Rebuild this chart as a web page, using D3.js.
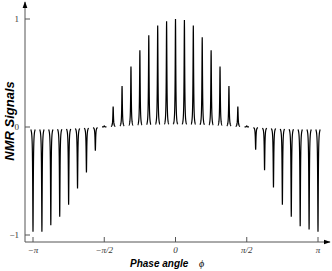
<!DOCTYPE html>
<html>
<head>
<meta charset="utf-8">
<script src="https://cdn.jsdelivr.net/npm/d3@7"></script>
<style>
  html, body { margin: 0; padding: 0; background: #fff; }
  svg { display: block; }
</style>
</head>
<body>
<svg id="chart" width="332" height="271"></svg>
<script>
// phase angles of each peak, in units of pi/16 from -pi to pi
const peakSteps = d3.range(-16, 17);
// peak heights, left to right
const peakHeights = [
    -0.97, -0.97, -0.91, -0.83, -0.72, -0.57, -0.42, -0.22, 0.01,
    0.19, 0.38, 0.56, 0.71, 0.85, 0.94, 0.98, 1.0, 0.99, 0.94,
    0.83, 0.71, 0.56, 0.38, 0.19, 0.01,
    -0.21, -0.40, -0.56, -0.72, -0.83, -0.92, -0.95, -0.97
];
const xTickValues = [-Math.PI, -Math.PI / 2, 0, Math.PI / 2, Math.PI];
const xTickLabels = ["\u2212\u03c0", "\u2212\u03c0/2", "0", "\u03c0/2", "\u03c0"];
const yTickValues = [-1, 0, 1];
const yTickLabels = ["\u22121", "0", "1"];

const svg = d3.select("#chart");

const x = d3.scaleLinear().domain([-Math.PI, Math.PI]).range([33, 318]);
const y = d3.scaleLinear().domain([-1, 1]).range([235, 19]);

const axisX0 = 25;
const axisY0 = 242;

// arrow head
svg.append("defs").append("marker")
    .attr("id", "arrow")
    .attr("viewBox", "0 0 10 10")
    .attr("refX", 9).attr("refY", 5)
    .attr("markerWidth", 7).attr("markerHeight", 7)
    .attr("orient", "auto")
    .append("path")
    .attr("d", "M0,1.5 L10,5 L0,8.5 Z")
    .attr("fill", "#000");

// peaks as narrow lorentzian lines, each with a short bit of baseline
const width = 0.35;
const peakPath = (d) => {
    const x0 = x(d.phi);
    const pts = d3.range(-2.2, 2.21, 0.1).map(dx => {
        const v = d.h * width * width / (dx * dx + width * width);
        return [x0 + dx, y(v)];
    });
    return d3.line()(pts);
};

const peaks = peakSteps.map((k, i) => ({ phi: k * Math.PI / 16, h: peakHeights[i] }));

svg.append("g")
    .selectAll("path")
    .data(peaks)
    .join("path")
    .attr("d", peakPath)
    .attr("fill", "none")
    .attr("stroke", "#000")
    .attr("stroke-width", 1.2);

// axes
svg.append("line")
    .attr("x1", axisX0).attr("y1", axisY0)
    .attr("x2", 330).attr("y2", axisY0)
    .attr("stroke", "#555").attr("stroke-width", 1)
    .attr("marker-end", "url(#arrow)");

svg.append("line")
    .attr("x1", axisX0).attr("y1", axisY0)
    .attr("x2", axisX0).attr("y2", 2)
    .attr("stroke", "#555").attr("stroke-width", 1)
    .attr("marker-end", "url(#arrow)");

// x ticks
const xt = svg.append("g");
xt.selectAll("line")
    .data(xTickValues)
    .join("line")
    .attr("x1", d => x(d)).attr("x2", d => x(d))
    .attr("y1", axisY0).attr("y2", axisY0 - 5)
    .attr("stroke", "#555");
xt.selectAll("text")
    .data(xTickValues)
    .join("text")
    .attr("x", d => x(d))
    .attr("y", 253)
    .attr("text-anchor", "middle")
    .attr("font-family", "Liberation Serif, serif")
    .attr("font-style", "italic")
    .attr("font-size", 9)
    .attr("fill", "#333")
    .text((d, i) => xTickLabels[i]);

// y ticks
const yt = svg.append("g");
yt.selectAll("line")
    .data(yTickValues)
    .join("line")
    .attr("x1", axisX0).attr("x2", axisX0 + 5)
    .attr("y1", d => y(d)).attr("y2", d => y(d))
    .attr("stroke", "#555");
yt.selectAll("text")
    .data(yTickValues)
    .join("text")
    .attr("x", 19)
    .attr("y", d => y(d) + 3)
    .attr("text-anchor", "end")
    .attr("font-family", "Liberation Serif, serif")
    .attr("font-size", 9)
    .attr("fill", "#333")
    .text((d, i) => yTickLabels[i]);

// axis titles
const xTitle = svg.append("text")
    .attr("x", 130)
    .attr("y", 267)
    .attr("font-family", "Liberation Sans, Arial, sans-serif")
    .attr("font-weight", "bold")
    .attr("font-style", "italic")
    .attr("font-size", 10);
xTitle.append("tspan").text("Phase angle");
xTitle.append("tspan")
    .attr("x", 199)
    .attr("font-family", "Liberation Serif, serif")
    .attr("font-weight", "normal")
    .attr("font-size", 10)
    .text("\u03d5");

svg.append("text")
    .attr("transform", "translate(14,121) rotate(-90)")
    .attr("text-anchor", "middle")
    .attr("font-family", "Liberation Sans, Arial, sans-serif")
    .attr("font-weight", "bold")
    .attr("font-style", "italic")
    .attr("font-size", 13)
    .text("NMR Signals");
</script>
</body>
</html>
